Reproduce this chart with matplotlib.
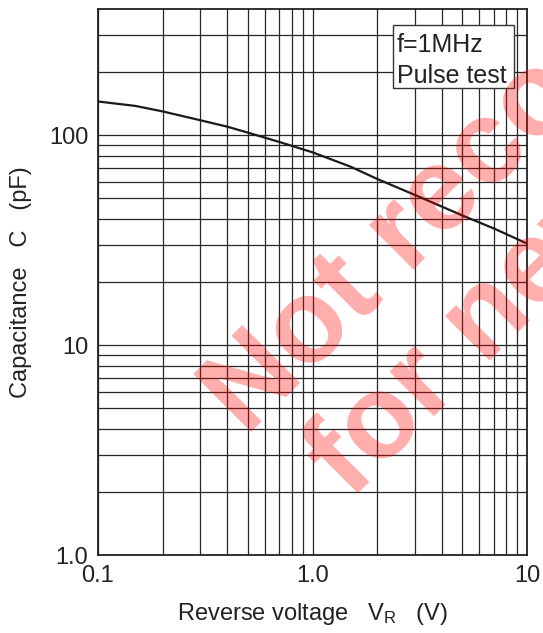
import matplotlib
matplotlib.use('Agg')
import matplotlib.pyplot as plt
from matplotlib.patches import Rectangle
from matplotlib.ticker import FixedLocator, NullFormatter

# capacitance vs reverse voltage
vr = [0.1, 0.15, 0.2, 0.3, 0.4, 0.5, 0.7, 1.0, 1.5, 2.0, 3.0, 5.0, 7.0, 10.0]
cap = [145, 138, 130, 118, 110, 103, 93, 83, 71, 62, 52, 41.5, 36, 30.5]

x_ticks = [0.1, 1.0, 10]
x_labels = ['0.1', '1.0', '10']
y_ticks = [1.0, 10, 100]
y_labels = ['1.0', '10', '100']

plt.rcParams['font.family'] = ['Liberation Sans', 'DejaVu Sans']
plt.rcParams['mathtext.fontset'] = 'custom'
plt.rcParams['mathtext.rm'] = 'Liberation Sans'

W, H = 543, 633
fig = plt.figure(figsize=(W / 100, H / 100), dpi=100)
ax = fig.add_axes([98 / W, 1 - 555 / H, (527 - 98) / W, (555 - 9) / H])

ax.set_xscale('log')
ax.set_yscale('log')
ax.set_xlim(0.1, 10)
ax.set_ylim(1.0, 400)

ax.xaxis.set_major_locator(FixedLocator(x_ticks))
ax.yaxis.set_major_locator(FixedLocator(y_ticks))
ax.set_xticklabels(x_labels)
ax.set_yticklabels(y_labels)
minor_x = [m * d for d in (0.1, 1.0) for m in range(2, 10)]
minor_y = [m * d for d in (1.0, 10, 100) for m in range(2, 10) if m * d < 400]
ax.xaxis.set_minor_locator(FixedLocator(minor_x))
ax.yaxis.set_minor_locator(FixedLocator(minor_y))
ax.xaxis.set_minor_formatter(NullFormatter())
ax.yaxis.set_minor_formatter(NullFormatter())

ax.grid(True, which='both', color='0.15', linewidth=0.9)
ax.tick_params(which='both', length=0)
ax.tick_params(axis='y', labelsize=17, pad=7, colors='#222222')
ax.tick_params(axis='x', labelsize=17, pad=7, colors='#222222')
for s in ax.spines.values():
    s.set_linewidth(1.3)
    s.set_color('#222222')

ax.plot(vr, cap, color='#1a1a1a', linewidth=1.6, zorder=3)

ax.set_xlabel('Reverse voltage   $\\mathregular{V_R}$   (V)', fontsize=17,
              color='#222222', labelpad=10)
ax.set_ylabel('Capacitance   C   (pF)', fontsize=17, color='#222222', labelpad=12)

# condition box
fig.patches.append(Rectangle((393 / W, 1 - 88 / H), (514 - 393) / W, (88 - 25) / H,
                             transform=fig.transFigure, facecolor='white',
                             edgecolor='#333333', linewidth=1.0, zorder=4))
fig.text(397 / W, 1 - 52 / H, 'f=1MHz', fontsize=18, color='#222222',
         ha='left', va='baseline', zorder=5)
fig.text(397 / W, 1 - 83 / H, 'Pulse test', fontsize=18, color='#222222',
         ha='left', va='baseline', zorder=5)

# watermark
wm = dict(rotation=45, rotation_mode='anchor', ha='left', va='baseline',
          fontsize=85, fontweight='bold', color=(1, 0, 0), alpha=0.32, zorder=10)
fig.text(246 / W, 1 - 437 / H, 'Not recommended', **wm)
fig.text(350 / W, 1 - 500 / H, 'for new design', **wm)

fig.savefig('out.png', dpi=100)
